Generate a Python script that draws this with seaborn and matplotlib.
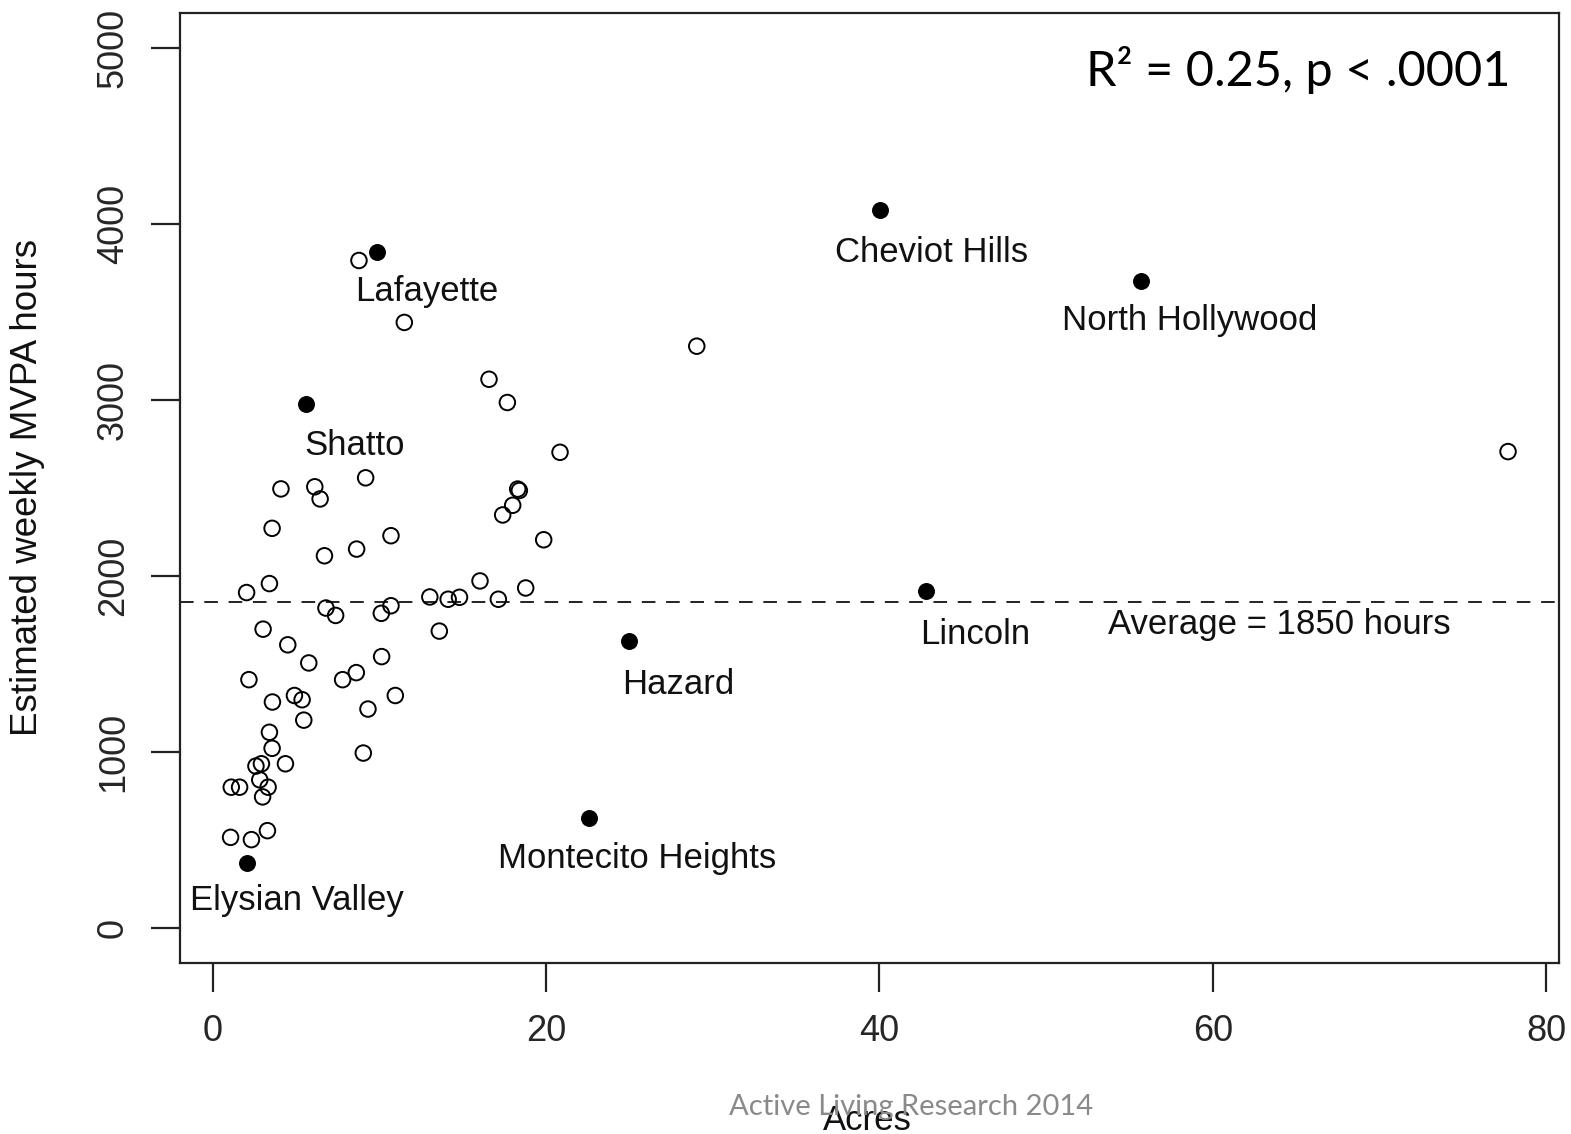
import pandas as pd
import matplotlib
matplotlib.use("Agg")
import matplotlib.pyplot as plt
import seaborn as sns

# Parks without a label (acres, estimated weekly MVPA hours)
other_acres = [4.1, 6.13, 6.45, 9.18, 3.57, 10.7, 8.64, 6.71, 3.41, 2.04,
               6.8, 7.38, 10.12, 10.7, 13.03, 13.6, 3.03, 4.51, 5.77, 10.14,
               2.18, 7.8, 8.62, 3.59, 4.91, 5.37, 10.96, 9.32, 5.47, 3.41,
               3.57, 9.04, 4.37, 2.6, 2.93, 1.12, 1.62, 2.83, 3.33, 3.0,
               1.08, 2.33, 3.29, 8.78, 11.5, 16.58, 17.68, 20.84, 18.3, 18.4,
               18.0, 17.4, 19.86, 16.04, 18.78, 14.13, 14.81, 17.14, 29.04, 77.7]
other_mvpa = [2494, 2506, 2437, 2557, 2270, 2228, 2152, 2114, 1956, 1905,
              1817, 1775, 1787, 1830, 1880, 1686, 1697, 1608, 1505, 1541,
              1410, 1410, 1450, 1283, 1320, 1296, 1320, 1243, 1180, 1111,
              1020, 993, 932, 919, 932, 799, 799, 841, 799, 744,
              514, 501, 552, 3792, 3440, 3117, 2985, 2702, 2493, 2485,
              2401, 2346, 2205, 1971, 1931, 1867, 1878, 1867, 3305, 2706]

# Highlighted parks
named_parks = ["Lafayette", "Shatto", "Cheviot Hills", "North Hollywood",
               "Lincoln", "Hazard", "Montecito Heights", "Elysian Valley"]
named_acres = [9.88, 5.61, 40.05, 55.7, 42.8, 25.0, 22.55, 2.04]
named_mvpa = [3843, 2974, 4081, 3676, 1912, 1627, 622, 367]

average_mvpa = 1850

x_ticks = [0, 20, 40, 60, 80]
y_ticks = [0, 1000, 2000, 3000, 4000, 5000]

# where each park name is written (centre x, baseline y, in data units)
label_pos = {
    "Lafayette": (12.84, 3562),
    "Shatto": (8.54, 2688),
    "Cheviot Hills": (43.15, 3783),
    "North Hollywood": (58.63, 3396),
    "Lincoln": (45.73, 1615),
    "Hazard": (27.96, 1330),
    "Montecito Heights": (25.47, 342),
    "Elysian Valley": (5.05, 101),
}

sns.set_style("white")
plt.rcParams["font.family"] = ["Liberation Sans", "DejaVu Sans"]

others = pd.DataFrame({"acres": other_acres, "mvpa": other_mvpa})
named = pd.DataFrame({"park": named_parks, "acres": named_acres, "mvpa": named_mvpa})

fig = plt.figure(figsize=(15.71, 11.34), dpi=100)
ax = fig.add_axes([0.1143, 0.1508, 0.8781, 0.838])

sns.scatterplot(data=others, x="acres", y="mvpa", ax=ax, marker="o", s=125,
                facecolor="none", edgecolor="black", linewidth=1.4, zorder=3)
sns.scatterplot(data=named, x="acres", y="mvpa", ax=ax, marker="o", s=125,
                color="black", edgecolor="black", linewidth=1.0, zorder=3)

ax.axhline(average_mvpa, color="#222222", linestyle=(0, (7, 5.5)), linewidth=1.4, zorder=2)

for park in named_parks:
    lx, ly = label_pos[park]
    ax.text(lx, ly, park, ha="center", va="baseline", fontsize=25, color="#111111")
ax.text(64.01, 1671, f"Average = {average_mvpa} hours", ha="center", va="baseline",
        fontsize=25, color="#111111")

ax.set_xlim(-1.98, 80.76)
ax.set_ylim(-200, 5200)
ax.set_xticks(x_ticks)
ax.set_yticks(y_ticks)
ax.set_xticklabels([str(t) for t in x_ticks], fontsize=26)
ax.set_yticklabels([str(t) for t in y_ticks], fontsize=26, rotation=90, va="center")
ax.tick_params(axis="both", direction="out", length=21, width=1.6, color="#222222",
               bottom=True, left=True)
ax.tick_params(axis="x", pad=16)
ax.tick_params(axis="y", pad=14)
ax.set_xlabel("")
ax.set_ylabel("")
for side in ax.spines.values():
    side.set_visible(True)
    side.set_color("#222222")
    side.set_linewidth(1.6)

fig.text(28 / 1571, 1 - 487 / 1134, "Estimated weekly MVPA hours", rotation=90,
         ha="center", va="center", fontsize=26.5, color="#111111")
fig.text(867 / 1571, 1 - 1104 / 1134, "Acres", ha="center", va="top",
         fontsize=25, color="#111111")

fig.text(1298 / 1571, 1 - 70 / 1134, "R² = 0.25, p < .0001", ha="center",
         va="center", fontsize=35, family=["Lato", "DejaVu Sans"], color="black")
fig.text(911 / 1571, 1 - 1107 / 1134, "Active Living Research 2014", ha="center",
         va="center", fontsize=21, family=["Lato", "DejaVu Sans"], color="#8a8a8a")

fig.savefig("out.png", dpi=100, facecolor="white")
